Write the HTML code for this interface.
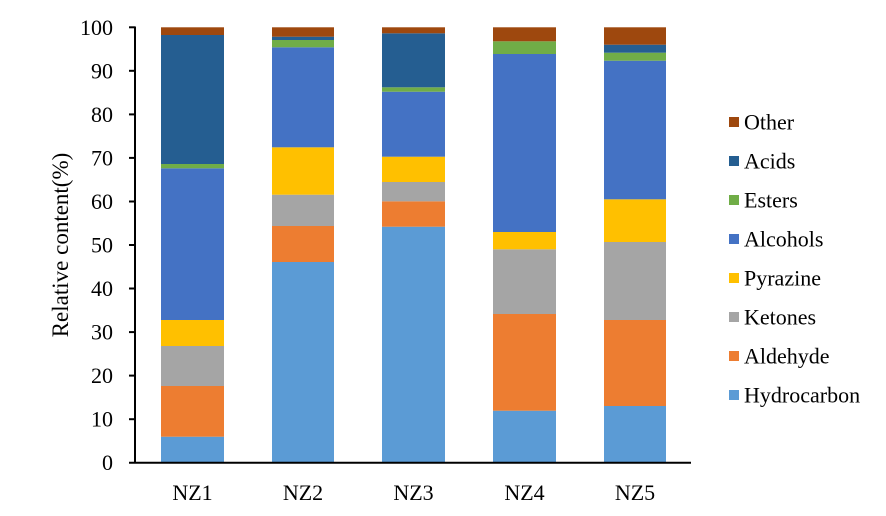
<!DOCTYPE html>
<html><head><meta charset="utf-8"><style>
html,body{margin:0;padding:0;background:#fff;width:886px;height:516px;overflow:hidden}
text{font-family:"Liberation Serif",serif;fill:#000}
</style></head><body>
<svg width="886" height="516" viewBox="0 0 886 516" xmlns="http://www.w3.org/2000/svg">
<g id="bars">
<rect x="161" y="436.7" width="63" height="26" fill="#5B9BD5"/>
<rect x="161" y="386" width="63" height="50.7" fill="#ED7D31"/>
<rect x="161" y="346" width="63" height="40" fill="#A5A5A5"/>
<rect x="161" y="320" width="63" height="26" fill="#FFC000"/>
<rect x="161" y="168.3" width="63" height="151.7" fill="#4472C4"/>
<rect x="161" y="164" width="63" height="4.3" fill="#70AD47"/>
<rect x="161" y="35" width="63" height="129" fill="#255E91"/>
<rect x="161" y="27.3" width="63" height="7.7" fill="#9E480E"/>
<rect x="272" y="262" width="62" height="200.7" fill="#5B9BD5"/>
<rect x="272" y="226" width="62" height="36" fill="#ED7D31"/>
<rect x="272" y="194.7" width="62" height="31.3" fill="#A5A5A5"/>
<rect x="272" y="147.3" width="62" height="47.4" fill="#FFC000"/>
<rect x="272" y="47.3" width="62" height="100" fill="#4472C4"/>
<rect x="272" y="40" width="62" height="7.3" fill="#70AD47"/>
<rect x="272" y="36.7" width="62" height="3.3" fill="#255E91"/>
<rect x="272" y="27.3" width="62" height="9.4" fill="#9E480E"/>
<rect x="382" y="226.7" width="63" height="236" fill="#5B9BD5"/>
<rect x="382" y="201.3" width="63" height="25.4" fill="#ED7D31"/>
<rect x="382" y="182" width="63" height="19.3" fill="#A5A5A5"/>
<rect x="382" y="156.7" width="63" height="25.3" fill="#FFC000"/>
<rect x="382" y="91.7" width="63" height="65" fill="#4472C4"/>
<rect x="382" y="87.3" width="63" height="4.4" fill="#70AD47"/>
<rect x="382" y="33.3" width="63" height="54" fill="#255E91"/>
<rect x="382" y="27.3" width="63" height="6" fill="#9E480E"/>
<rect x="493" y="410.7" width="63" height="52" fill="#5B9BD5"/>
<rect x="493" y="314" width="63" height="96.7" fill="#ED7D31"/>
<rect x="493" y="249.3" width="63" height="64.7" fill="#A5A5A5"/>
<rect x="493" y="232" width="63" height="17.3" fill="#FFC000"/>
<rect x="493" y="54" width="63" height="178" fill="#4472C4"/>
<rect x="493" y="41.3" width="63" height="12.7" fill="#70AD47"/>
<rect x="493" y="27.3" width="63" height="14" fill="#9E480E"/>
<rect x="604" y="406" width="62" height="56.7" fill="#5B9BD5"/>
<rect x="604" y="320" width="62" height="86" fill="#ED7D31"/>
<rect x="604" y="242" width="62" height="78" fill="#A5A5A5"/>
<rect x="604" y="199.3" width="62" height="42.7" fill="#FFC000"/>
<rect x="604" y="60.7" width="62" height="138.6" fill="#4472C4"/>
<rect x="604" y="52.7" width="62" height="8" fill="#70AD47"/>
<rect x="604" y="44.7" width="62" height="8" fill="#255E91"/>
<rect x="604" y="27.3" width="62" height="17.4" fill="#9E480E"/>
</g>
<g stroke="#000" stroke-width="2">
<line x1="135" y1="26.5" x2="135" y2="463.5"/>
<line x1="129" y1="462.7" x2="691" y2="462.7"/>
<line x1="129" y1="27.3" x2="135" y2="27.3"/>
<line x1="129" y1="70.8" x2="135" y2="70.8"/>
<line x1="129" y1="114.4" x2="135" y2="114.4"/>
<line x1="129" y1="157.9" x2="135" y2="157.9"/>
<line x1="129" y1="201.5" x2="135" y2="201.5"/>
<line x1="129" y1="245" x2="135" y2="245"/>
<line x1="129" y1="288.5" x2="135" y2="288.5"/>
<line x1="129" y1="332.1" x2="135" y2="332.1"/>
<line x1="129" y1="375.6" x2="135" y2="375.6"/>
<line x1="129" y1="419.2" x2="135" y2="419.2"/>
</g>
<g font-size="22" text-anchor="end">
<text x="113" y="35">100</text>
<text x="113" y="78.5">90</text>
<text x="113" y="122">80</text>
<text x="113" y="165.5">70</text>
<text x="113" y="209">60</text>
<text x="113" y="252.5">50</text>
<text x="113" y="296">40</text>
<text x="113" y="339.5">30</text>
<text x="113" y="383">20</text>
<text x="113" y="426.5">10</text>
<text x="113" y="470">0</text>
</g>
<g font-size="22" text-anchor="middle">
<text x="192.5" y="500">NZ1</text>
<text x="303" y="500">NZ2</text>
<text x="413.5" y="500">NZ3</text>
<text x="524.5" y="500">NZ4</text>
<text x="635" y="500">NZ5</text>
</g>
<text font-size="23" text-anchor="middle" transform="translate(68,245) rotate(-90)">Relative content(%)</text>
<g font-size="22">
<rect x="729" y="117" width="10" height="10" fill="#9E480E"/><text x="744" y="129.5">Other</text>
<rect x="729" y="156" width="10" height="10" fill="#255E91"/><text x="744" y="168.5">Acids</text>
<rect x="729" y="195" width="10" height="10" fill="#70AD47"/><text x="744" y="207.5">Esters</text>
<rect x="729" y="234" width="10" height="10" fill="#4472C4"/><text x="744" y="246.5">Alcohols</text>
<rect x="729" y="273" width="10" height="10" fill="#FFC000"/><text x="744" y="285.5">Pyrazine</text>
<rect x="729" y="312" width="10" height="10" fill="#A5A5A5"/><text x="744" y="324.5">Ketones</text>
<rect x="729" y="351" width="10" height="10" fill="#ED7D31"/><text x="744" y="363.5">Aldehyde</text>
<rect x="729" y="390" width="10" height="10" fill="#5B9BD5"/><text x="744" y="402.5">Hydrocarbon</text>
</g>
</svg>
</body></html>
